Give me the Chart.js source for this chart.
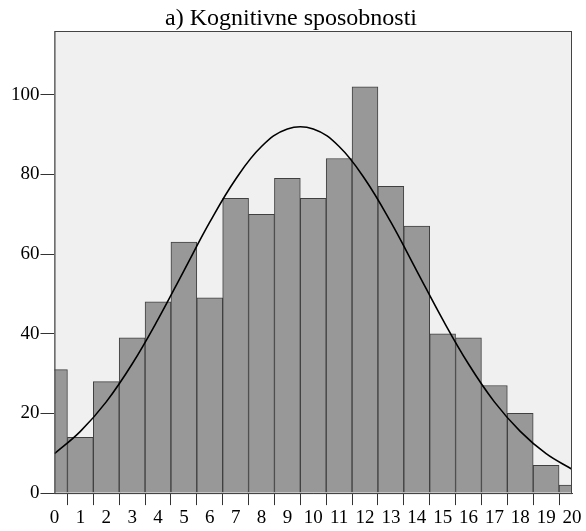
<!DOCTYPE html>
<html>
<head>
<meta charset="utf-8">
<script src="https://cdn.jsdelivr.net/npm/chart.js@4/dist/chart.umd.min.js"></script>
<style>
  html, body { margin: 0; padding: 0; background: #fff; }
  #wrap { width: 586px; height: 531px; }
</style>
</head>
<body>
<div id="wrap"><canvas id="histChart"></canvas></div>
<script>
// score categories 0..20
const scores = [0, 1, 2, 3, 4, 5, 6, 7, 8, 9, 10, 11, 12, 13, 14, 15, 16, 17, 18, 19, 20];
// bar heights (frequencies)
const counts = [31, 14, 28, 39, 48, 63, 49, 74, 70, 79, 74, 84, 102, 77, 67, 40, 39, 27, 20, 7, 2];
// normal curve at each score
const curve = [9.9, 15.5, 22.9, 32.4, 43.6, 55.8, 68.0, 78.8, 87.0, 91.4, 91.4, 87.0, 78.8, 68.0, 55.8, 43.6, 32.4, 22.9, 15.5, 9.9, 6.0];
const yTicks = [0, 20, 40, 60, 80, 100];

const serif = '"Liberation Serif", "Times New Roman", serif';

const plotFrame = {
    id: 'plotFrame',
    beforeDatasetsDraw(chart) {
        const a = chart.chartArea;
        const ctx = chart.ctx;
        ctx.save();
        ctx.fillStyle = '#f0f0f0';
        ctx.fillRect(a.left, a.top, a.right - a.left, a.bottom - a.top);
        ctx.restore();
    },
    afterDraw(chart) {
        const a = chart.chartArea;
        const ctx = chart.ctx;
        ctx.save();
        ctx.strokeStyle = '#444';
        ctx.lineWidth = 1;
        ctx.strokeRect(a.left + 0.5, a.top + 0.5, a.right - a.left - 1, a.bottom - a.top);
        ctx.restore();
    }
};

const ctx = document.getElementById('histChart').getContext('2d');
const chart = new Chart(ctx, {
    type: 'bar',
    data: {
        datasets: [
            {
                type: 'line',
                data: scores.map((s, i) => ({ x: s, y: curve[i] })),
                borderColor: '#000',
                borderWidth: 1.6,
                pointRadius: 0,
                tension: 0.4,
                fill: false,
                clip: 0,
            },
            {
                type: 'bar',
                data: scores.map((s, i) => ({ x: s, y: counts[i] })),
                backgroundColor: '#989898',
                borderColor: '#404040',
                borderWidth: 1,
                barPercentage: 1,
                categoryPercentage: 1,
                clip: 0,
            },
        ],
    },
    options: {
        responsive: true,
        maintainAspectRatio: false,
        animation: false,
        layout: { padding: { left: 10, right: 14, top: 0, bottom: 1 } },
        plugins: {
            legend: { display: false },
            tooltip: { enabled: false },
            title: {
                display: true,
                text: 'a) Kognitivne sposobnosti',
                color: '#000',
                font: { family: serif, size: 24, weight: 'normal', lineHeight: 1 },
                padding: { top: 7, bottom: 0 },
            },
        },
        scales: {
            x: {
                type: 'linear',
                min: 0,
                max: 20,
                offset: false,
                grid: { display: true, drawOnChartArea: false, drawTicks: true, tickLength: 12, color: '#333' },
                border: { display: true, color: '#444' },
                afterBuildTicks(scale) {
                    scale.ticks = scores.map(v => ({ value: v }));
                },
                ticks: {
                    color: '#000',
                    padding: 2,
                    maxRotation: 0,
                    autoSkip: false,
                    font: { family: serif, size: 19, lineHeight: 1.1 },
                    callback: v => String(v),
                },
            },
            y: {
                min: 0,
                max: 116,
                grid: { display: true, drawOnChartArea: false, drawTicks: true, tickLength: 14, color: '#333' },
                border: { display: true, color: '#444' },
                afterBuildTicks(scale) {
                    scale.ticks = yTicks.map(v => ({ value: v }));
                },
                ticks: {
                    color: '#000',
                    padding: 1,
                    font: { family: serif, size: 19 },
                    callback: v => String(v),
                },
            },
        },
    },
    plugins: [plotFrame],
});
</script>
</body>
</html>
